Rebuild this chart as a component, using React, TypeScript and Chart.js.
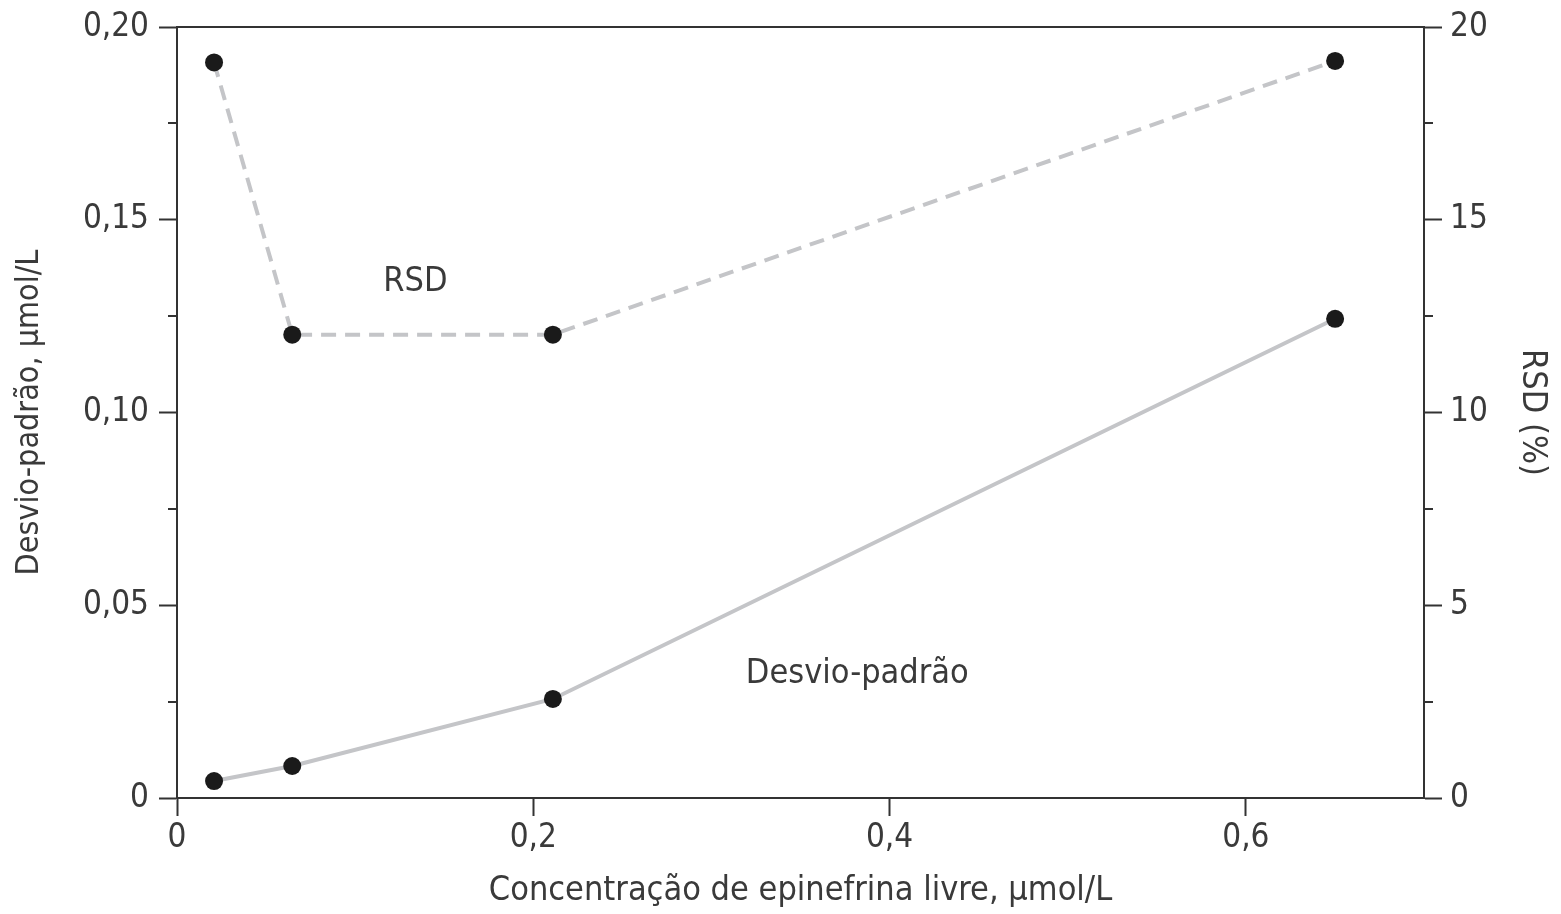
import React, { useEffect, useRef } from 'react';
import { Chart, registerables } from 'chart.js';

Chart.register(...registerables);

// ---- Data ----
const concentration = [0.0208, 0.0647, 0.211, 0.6501];
const sdValues = [0.0044, 0.0083, 0.0257, 0.1243];
const rsdValues = [19.08, 12.02, 12.02, 19.12];

const xTicks = [0, 0.2, 0.4, 0.6];
const leftTicks = [0, 0.05, 0.1, 0.15, 0.2];
const leftMinorTicks = [0.025, 0.075, 0.125, 0.175];
const rightTicks = [0, 5, 10, 15, 20];
const rightMinorTicks = [2.5, 7.5, 12.5, 17.5];

const annotationTexts = ['RSD', 'Desvio-padrão'];
const annotationX = [0.1338, 0.3819];
const annotationY = [0.1339, 0.032];

const xTitle = 'Concentração de epinefrina livre, µmol/L';
const leftTitle = 'Desvio-padrão, µmol/L';
const rightTitle = 'RSD (%)';

// ---- Styles ----
const FONT_FAMILY = "'Liberation Sans Narrow', 'DejaVu Sans Condensed', 'Arial Narrow', sans-serif";
const TEXT = '#3a3a3a';
const AXIS = '#333333';
const LINE = '#c4c5c8';
const DOT = '#1a1a1a';

const tickFont = { family: FONT_FAMILY, size: 33, lineHeight: 1 };
const titleFont = { family: FONT_FAMILY, size: 34, lineHeight: 1 };
const leftTitleFont = { family: FONT_FAMILY, size: 32, lineHeight: 1 };
const ANNOT_SIZE = 34;

const fmtComma = (v: number, digits: number) => (v === 0 ? '0' : v.toFixed(digits).replace('.', ','));

const extrasPlugin = {
  id: 'extras',
  afterDatasetsDraw(chart: any) {
    const { ctx, scales } = chart;
    ctx.save();
    ctx.fillStyle = TEXT;
    ctx.font = `${ANNOT_SIZE}px ${FONT_FAMILY}`;
    ctx.textAlign = 'center';
    ctx.textBaseline = 'middle';
    annotationTexts.forEach((t, i) => {
      ctx.fillText(t, scales.x.getPixelForValue(annotationX[i]), scales.y.getPixelForValue(annotationY[i]));
    });
    ctx.restore();
  },
  afterDraw(chart: any) {
    const { ctx, chartArea, scales } = chart;
    ctx.save();
    ctx.strokeStyle = AXIS;
    ctx.lineWidth = 2;
    // top border
    ctx.beginPath();
    ctx.moveTo(chartArea.left - 1, chartArea.top);
    ctx.lineTo(chartArea.right + 1, chartArea.top);
    ctx.stroke();
    // minor ticks
    leftMinorTicks.forEach((v) => {
      const y = Math.round(scales.y.getPixelForValue(v));
      ctx.beginPath();
      ctx.moveTo(chartArea.left, y);
      ctx.lineTo(chartArea.left - 9, y);
      ctx.stroke();
    });
    rightMinorTicks.forEach((v) => {
      const y = Math.round(scales.y1.getPixelForValue(v));
      ctx.beginPath();
      ctx.moveTo(chartArea.right, y);
      ctx.lineTo(chartArea.right + 9, y);
      ctx.stroke();
    });
    ctx.restore();
  },
};

export default function App() {
  const canvasRef = useRef<HTMLCanvasElement | null>(null);

  useEffect(() => {
    if (!canvasRef.current) return;
    const chart = new Chart(canvasRef.current, {
      type: 'line',
      data: {
        datasets: [
          {
            label: 'Desvio-padrão',
            data: concentration.map((x, i) => ({ x, y: sdValues[i] })),
            yAxisID: 'y',
            borderColor: LINE,
            borderWidth: 4,
            pointRadius: 9,
            pointHoverRadius: 9,
            pointBackgroundColor: DOT,
            pointBorderWidth: 0,
            tension: 0,
            fill: false,
          },
          {
            label: 'RSD',
            data: concentration.map((x, i) => ({ x, y: rsdValues[i] })),
            yAxisID: 'y1',
            borderColor: LINE,
            borderWidth: 4,
            borderDash: [15, 9],
            pointRadius: 9,
            pointHoverRadius: 9,
            pointBackgroundColor: DOT,
            pointBorderWidth: 0,
            tension: 0,
            fill: false,
          },
        ],
      },
      options: {
        animation: false,
        responsive: false,
        layout: { padding: { top: 27, left: 0, right: 0, bottom: 0 } },
        plugins: { legend: { display: false }, tooltip: { enabled: false } },
        scales: {
          x: {
            type: 'linear',
            position: 'bottom',
            min: 0,
            max: 0.7,
            afterBuildTicks: (s: any) => {
              s.ticks = xTicks.map((value) => ({ value }));
            },
            afterFit: (s: any) => {
              s.height = 116;
            },
            grid: { drawOnChartArea: false, tickLength: 18, tickWidth: 2, tickColor: AXIS },
            border: { color: AXIS, width: 2 },
            ticks: {
              font: tickFont,
              color: TEXT,
              padding: 6,
              maxRotation: 0,
              autoSkip: false,
              callback: (v: any) => fmtComma(Number(v), 1),
            },
            title: { display: true, text: xTitle, font: titleFont, color: TEXT, padding: { top: 0, bottom: 6 } },
          },
          y: {
            type: 'linear',
            position: 'left',
            min: 0,
            max: 0.2,
            afterBuildTicks: (s: any) => {
              s.ticks = leftTicks.map((value) => ({ value }));
            },
            afterFit: (s: any) => {
              s.width = 177;
            },
            grid: { drawOnChartArea: false, tickLength: 18, tickWidth: 2, tickColor: AXIS },
            border: { color: AXIS, width: 2 },
            ticks: {
              font: tickFont,
              color: TEXT,
              padding: 10,
              autoSkip: false,
              callback: (v: any) => fmtComma(Number(v), 2),
            },
            title: { display: true, text: leftTitle, font: leftTitleFont, color: TEXT, padding: { top: 14, bottom: 0 } },
          },
          y1: {
            type: 'linear',
            position: 'right',
            min: 0,
            max: 20,
            afterBuildTicks: (s: any) => {
              s.ticks = rightTicks.map((value) => ({ value }));
            },
            afterFit: (s: any) => {
              s.width = 137;
            },
            grid: { drawOnChartArea: false, tickLength: 18, tickWidth: 2, tickColor: AXIS },
            border: { color: AXIS, width: 2 },
            ticks: {
              font: tickFont,
              color: TEXT,
              padding: 8,
              autoSkip: false,
              callback: (v: any) => String(v),
            },
            title: { display: true, text: rightTitle, font: titleFont, color: TEXT, padding: { top: 12, bottom: 0 } },
          },
        },
      },
      plugins: [extrasPlugin],
    });
    return () => chart.destroy();
  }, []);

  return (
    <div style={{ position: 'fixed', left: 0, top: 0, width: 1561, height: 914, background: '#ffffff' }}>
      <canvas ref={canvasRef} width={1561} height={914} style={{ display: 'block', width: 1561, height: 914 }} />
    </div>
  );
}
